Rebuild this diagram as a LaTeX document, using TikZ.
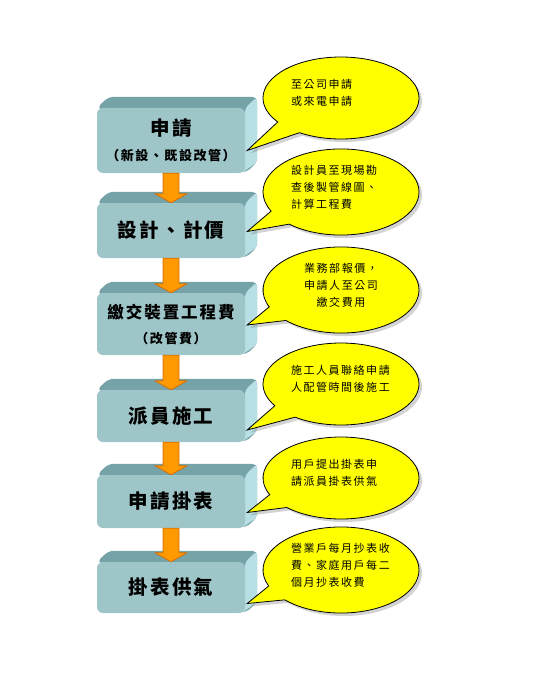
\documentclass[tikz,border=0pt]{standalone}
\usepackage{fontspec}
\usetikzlibrary{calc, shapes.callouts, shadows, backgrounds}
\newfontfamily\cjk[LetterSpace=12]{Noto Sans CJK TC}
\newfontfamily\cjknote[LetterSpace=14]{Noto Sans CJK TC}
\definecolor{boxfront}{RGB}{158,197,200}
\definecolor{boxtop}{RGB}{118,163,167}
\definecolor{boxside}{RGB}{184,223,227}
\definecolor{pipefill}{RGB}{255,153,0}
\definecolor{pipeline}{RGB}{214,110,0}
\definecolor{notefill}{RGB}{255,255,0}
\tikzset{
  stage/.style={fill=boxfront, rounded corners=6pt, minimum width=148pt, inner sep=0pt,
    align=center, font=\cjk\bfseries\fontsize{19.5}{25}\selectfont},
  pipe/.style={fill=pipefill, draw=pipeline, line width=0.8pt, line join=round},
  note/.style={ellipse callout, draw=black, fill=notefill, line width=0.8pt,
    minimum width=156pt, minimum height=82pt, callout pointer arc=22, text width=100pt,
    font=\cjknote\fontsize{11}{17}\selectfont, execute at end node={\par\kern10pt},
    drop shadow={shadow xshift=3pt, shadow yshift=-3pt, opacity=0.35}}
}
\begin{document}
\begin{tikzpicture}[x=1pt, y=-1pt]
    \useasboundingbox (0,0) rectangle (535,698);
    \foreach \i/\y/\h/\t in {1/140.5/65/{申請\\{\fontsize{13}{25}\selectfont （新設、既設改管）}},
                             2/230.5/55/{設計、計價},
                             3/324/62/{{\fontsize{16.5}{25}\selectfont 繳交裝置工程費}\\{\fontsize{13}{25}\selectfont （改管費）}},
                             4/416/52/{派員施工},
                             5/501.5/53/{申請掛表},
                             6/587.5/51/{掛表供氣}} {
        \node[stage, minimum height=\h] (b\i) at (171,\y) {\t};
    }
    \begin{scope}[on background layer]
        \foreach \i in {1,...,6} {
            \fill[boxtop, rounded corners=5pt] (b\i.north west) -- ++(12,-11) -- ($(b\i.north east)+(12,-11)$)
                -- ($(b\i.south east)+(12,-11)$) -- (b\i.south east) -- cycle;
            \fill[boxside, rounded corners=4pt] (b\i.north east) -- ($(b\i.north east)+(12,-11)$)
                -- ($(b\i.south east)+(12,-11)$) -- ($(b\i.south east)+(-4,0)$) -- cycle;
        }
    \end{scope}
    \foreach \i/\j in {1/2,2/3,3/4,4/5,5/6} {
        \filldraw[pipe] ($(b\i.south)+(-8,0)$) -- ($(b\j.north)+(-8,-9)$) -- ($(b\j.north)+(-16,-9)$)
            -- (b\j.north) -- ($(b\j.north)+(16,-9)$) -- ($(b\j.north)+(8,-9)$) -- ($(b\i.south)+(8,0)$) -- cycle;
    }
    \foreach \i/\y/\dy/\a/\t in {1/98/10/left/{至公司申請\\或來電申請},
                                 2/192/1/left/{設計員至現場勘\\查後製管線圖、\\計算工程費},
                                 3/290/1/center/{業務部報價，\\申請人至公司\\繳交費用},
                                 4/384/14/left/{施工人員聯絡申請\\人配管時間後施工},
                                 5/478/11/left/{用戶提出掛表申\\請派員掛表供氣},
                                 6/570/16/left/{營業戶每月抄表收\\費、家庭用戶每二\\個月抄表收費}} {
        \node[note, align=\a, callout absolute pointer={($(b\i.east)+(2,\dy)$)}] (n\i) at (341,\y) {\t};
    }
\end{tikzpicture}
\end{document}
